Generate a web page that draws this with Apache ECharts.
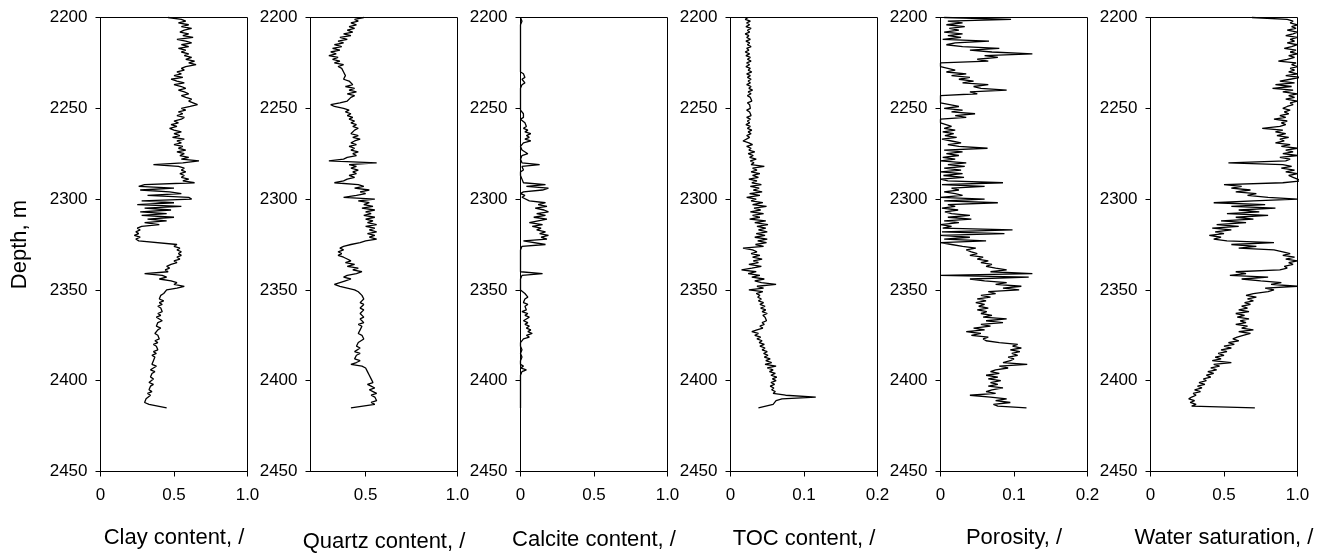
<!DOCTYPE html>
<html>
<head>
<meta charset="utf-8">
<title>Well log profiles</title>
<script src="https://cdn.jsdelivr.net/npm/echarts@6/dist/echarts.min.js"></script>
<style>
  html, body { margin: 0; padding: 0; background: #fff; }
  #chart { width: 1320px; height: 554px; }
</style>
</head>
<body>
<div id="chart"></div>
<script>
// Log sampling: one reading per metre, 2200 m to 2415 m
const depthTop = 2200;
const depthStep = 1;

const clay = [
  0.46, 0.55, 0.58, 0.53, 0.60, 0.55, 0.62, 0.57, 0.54, 0.60,
  0.56, 0.63, 0.52, 0.58, 0.62, 0.55, 0.60, 0.53, 0.58, 0.55,
  0.60, 0.57, 0.62, 0.58, 0.64, 0.60, 0.65, 0.58, 0.55, 0.57,
  0.52, 0.55, 0.50, 0.56, 0.48, 0.52, 0.57, 0.50, 0.55, 0.58,
  0.53, 0.57, 0.60, 0.55, 0.58, 0.62, 0.60, 0.63, 0.66, 0.61,
  0.55, 0.58, 0.53, 0.56, 0.52, 0.57, 0.55, 0.50, 0.53, 0.48,
  0.52, 0.47, 0.50, 0.55, 0.50, 0.54, 0.49, 0.57, 0.52, 0.55,
  0.50, 0.56, 0.53, 0.58, 0.52, 0.57, 0.54, 0.60, 0.55, 0.67,
  0.56, 0.36, 0.53, 0.57, 0.55, 0.58, 0.54, 0.57, 0.55, 0.60,
  0.56, 0.64, 0.30, 0.26, 0.50, 0.27, 0.47, 0.55, 0.32, 0.60,
  0.62, 0.28, 0.50, 0.25, 0.55, 0.30, 0.48, 0.27, 0.45, 0.28,
  0.50, 0.32, 0.45, 0.30, 0.40, 0.28, 0.25, 0.27, 0.24, 0.26,
  0.23, 0.27, 0.24, 0.26, 0.25, 0.52, 0.50, 0.54, 0.52, 0.55,
  0.53, 0.55, 0.52, 0.54, 0.50, 0.52, 0.48, 0.45, 0.47, 0.44,
  0.46, 0.30, 0.42, 0.45, 0.40, 0.48, 0.52, 0.50, 0.57, 0.52,
  0.45, 0.44, 0.43, 0.41, 0.42, 0.40, 0.43, 0.40, 0.42, 0.39,
  0.41, 0.40, 0.42, 0.39, 0.41, 0.38, 0.40, 0.42, 0.39, 0.40,
  0.38, 0.41, 0.39, 0.40, 0.37, 0.39, 0.38, 0.40, 0.37, 0.39,
  0.36, 0.38, 0.37, 0.39, 0.36, 0.38, 0.35, 0.37, 0.38, 0.36,
  0.37, 0.35, 0.38, 0.36, 0.34, 0.37, 0.35, 0.36, 0.34, 0.36,
  0.35, 0.33, 0.36, 0.34, 0.35, 0.33, 0.35, 0.32, 0.34, 0.33,
  0.31, 0.32, 0.30, 0.33, 0.32, 0.45
];

const quartz = [
  0.49, 0.44, 0.46, 0.42, 0.45, 0.41, 0.44, 0.40, 0.43, 0.38,
  0.42, 0.36, 0.40, 0.35, 0.38, 0.33, 0.37, 0.32, 0.36, 0.31,
  0.34, 0.30, 0.35, 0.32, 0.36, 0.33, 0.38, 0.35, 0.37, 0.36,
  0.38, 0.37, 0.39, 0.40, 0.38, 0.41, 0.40, 0.43, 0.39, 0.44,
  0.41, 0.45, 0.40, 0.44, 0.42, 0.43, 0.40, 0.36, 0.31, 0.33,
  0.38, 0.41, 0.39, 0.42, 0.40, 0.43, 0.41, 0.44, 0.42, 0.45,
  0.43, 0.46, 0.44, 0.45, 0.42, 0.46, 0.43, 0.47, 0.44, 0.42,
  0.45, 0.41, 0.44, 0.42, 0.46, 0.43, 0.45, 0.40, 0.38, 0.30,
  0.56, 0.41, 0.45, 0.42, 0.46, 0.43, 0.45, 0.41, 0.44, 0.40,
  0.38, 0.33, 0.46, 0.49, 0.44, 0.52, 0.47, 0.50, 0.45, 0.38,
  0.55, 0.46, 0.52, 0.49, 0.54, 0.48, 0.55, 0.50, 0.53, 0.49,
  0.55, 0.50, 0.54, 0.51, 0.56, 0.50, 0.55, 0.52, 0.56, 0.51,
  0.55, 0.52, 0.56, 0.50, 0.47, 0.42, 0.38, 0.36, 0.38, 0.35,
  0.37, 0.35, 0.38, 0.40, 0.42, 0.39, 0.44, 0.40, 0.46, 0.43,
  0.48, 0.45, 0.40, 0.38, 0.42, 0.39, 0.36, 0.33, 0.36, 0.40,
  0.44, 0.46, 0.47, 0.48, 0.47, 0.49, 0.48, 0.47, 0.49, 0.48,
  0.47, 0.49, 0.48, 0.47, 0.48, 0.49, 0.47, 0.48, 0.49, 0.46,
  0.48, 0.49, 0.47, 0.48, 0.46, 0.48, 0.47, 0.49, 0.48, 0.46,
  0.47, 0.45, 0.47, 0.46, 0.44, 0.47, 0.45, 0.46, 0.44, 0.47,
  0.45, 0.42, 0.48, 0.50, 0.49, 0.51, 0.50, 0.52, 0.51, 0.53,
  0.52, 0.54, 0.51, 0.53, 0.55, 0.52, 0.54, 0.56, 0.53, 0.55,
  0.54, 0.56, 0.53, 0.55, 0.54, 0.42
];

const calcite = [
  0.00, 0.00, 0.01, 0.00, 0.00, 0.00, 0.00, 0.00, 0.00, 0.00,
  0.00, 0.00, 0.00, 0.00, 0.00, 0.00, 0.00, 0.00, 0.00, 0.00,
  0.00, 0.00, 0.00, 0.00, 0.00, 0.00, 0.00, 0.00, 0.00, 0.00,
  0.00, 0.02, 0.01, 0.03, 0.01, 0.02, 0.03, 0.01, 0.02, 0.00,
  0.00, 0.00, 0.00, 0.00, 0.00, 0.00, 0.00, 0.00, 0.00, 0.00,
  0.00, 0.00, 0.00, 0.02, 0.01, 0.02, 0.00, 0.01, 0.03, 0.02,
  0.04, 0.02, 0.05, 0.03, 0.07, 0.04, 0.06, 0.03, 0.07, 0.02,
  0.01, 0.00, 0.00, 0.01, 0.00, 0.05, 0.01, 0.00, 0.00, 0.00,
  0.01, 0.13, 0.01, 0.00, 0.02, 0.00, 0.01, 0.00, 0.00, 0.01,
  0.00, 0.02, 0.17, 0.04, 0.19, 0.15, 0.02, 0.00, 0.03, 0.01,
  0.00, 0.06, 0.17, 0.12, 0.18, 0.10, 0.16, 0.19, 0.11, 0.17,
  0.09, 0.18, 0.12, 0.06, 0.15, 0.08, 0.14, 0.11, 0.17, 0.13,
  0.19, 0.14, 0.18, 0.02, 0.01, 0.17, 0.01, 0.00, 0.00, 0.00,
  0.00, 0.00, 0.00, 0.00, 0.00, 0.00, 0.00, 0.00, 0.00, 0.01,
  0.00, 0.15, 0.01, 0.00, 0.00, 0.00, 0.00, 0.00, 0.00, 0.00,
  0.00, 0.01, 0.03, 0.02, 0.05, 0.03, 0.04, 0.02, 0.05, 0.03,
  0.02, 0.04, 0.01, 0.05, 0.03, 0.06, 0.04, 0.02, 0.05, 0.03,
  0.06, 0.04, 0.07, 0.05, 0.08, 0.04, 0.06, 0.02, 0.01, 0.00,
  0.01, 0.00, 0.00, 0.01, 0.00, 0.00, 0.00, 0.01, 0.00, 0.00,
  0.01, 0.00, 0.02, 0.00, 0.04, 0.01, 0.00, 0.00, 0.00, 0.00,
  0.00, 0.00, 0.00, 0.00, 0.00, 0.00, 0.00, 0.00, 0.00, 0.00,
  0.00, 0.00, 0.00, 0.00, 0.00, 0.00
];

const toc = [
  0.024, 0.020, 0.027, 0.022, 0.026, 0.021, 0.028, 0.023, 0.026, 0.020,
  0.025, 0.022, 0.027, 0.021, 0.026, 0.023, 0.028, 0.022, 0.025, 0.020,
  0.026, 0.021, 0.027, 0.023, 0.028, 0.022, 0.026, 0.021, 0.027, 0.024,
  0.029, 0.022, 0.027, 0.023, 0.028, 0.024, 0.027, 0.022, 0.028, 0.025,
  0.030, 0.024, 0.028, 0.023, 0.027, 0.025, 0.029, 0.023, 0.026, 0.024,
  0.027, 0.022, 0.026, 0.024, 0.028, 0.022, 0.027, 0.023, 0.026, 0.021,
  0.027, 0.023, 0.029, 0.024, 0.028, 0.022, 0.026, 0.024, 0.017, 0.025,
  0.030, 0.022, 0.028, 0.025, 0.033, 0.024, 0.031, 0.026, 0.035, 0.027,
  0.032, 0.028, 0.046, 0.030, 0.036, 0.028, 0.040, 0.030, 0.038, 0.025,
  0.036, 0.029, 0.042, 0.027, 0.039, 0.031, 0.043, 0.026, 0.040, 0.022,
  0.035, 0.028, 0.044, 0.030, 0.049, 0.032, 0.041, 0.027, 0.045, 0.030,
  0.040, 0.026, 0.048, 0.033, 0.051, 0.036, 0.048, 0.038, 0.050, 0.035,
  0.047, 0.033, 0.050, 0.037, 0.049, 0.034, 0.045, 0.017, 0.030, 0.036,
  0.028, 0.040, 0.030, 0.043, 0.031, 0.038, 0.025, 0.042, 0.029, 0.015,
  0.035, 0.024, 0.040, 0.029, 0.046, 0.033, 0.042, 0.062, 0.036, 0.045,
  0.025, 0.044, 0.035, 0.040, 0.037, 0.042, 0.038, 0.045, 0.040, 0.047,
  0.041, 0.048, 0.043, 0.050, 0.044, 0.047, 0.045, 0.049, 0.043, 0.046,
  0.040, 0.044, 0.036, 0.029, 0.038, 0.033, 0.041, 0.036, 0.043, 0.039,
  0.046, 0.040, 0.047, 0.043, 0.050, 0.045, 0.051, 0.046, 0.054, 0.048,
  0.056, 0.047, 0.062, 0.050, 0.058, 0.053, 0.061, 0.055, 0.063, 0.057,
  0.062, 0.055, 0.060, 0.054, 0.059, 0.056, 0.061, 0.058, 0.075, 0.116,
  0.070, 0.062, 0.060, 0.058, 0.056, 0.038
];

const porosity = [
  0.005, 0.096, 0.010, 0.030, 0.008, 0.033, 0.012, 0.025, 0.005, 0.030,
  0.010, 0.028, 0.003, 0.066, 0.020, 0.008, 0.030, 0.080, 0.040, 0.070,
  0.125, 0.060, 0.078, 0.050, 0.065, 0.000, 0.000, 0.000, 0.000, 0.020,
  0.008, 0.035, 0.015, 0.040, 0.025, 0.045, 0.030, 0.065, 0.045, 0.055,
  0.090, 0.040, 0.050, 0.000, 0.000, 0.000, 0.000, 0.000, 0.000, 0.025,
  0.005, 0.030, 0.015, 0.047, 0.020, 0.035, 0.000, 0.000, 0.000, 0.000,
  0.015, 0.005, 0.020, 0.003, 0.018, 0.006, 0.022, 0.002, 0.015, 0.028,
  0.010, 0.025, 0.064, 0.005, 0.030, 0.008, 0.025, 0.003, 0.020, 0.000,
  0.035, 0.010, 0.033, 0.005, 0.028, 0.000, 0.030, 0.004, 0.032, 0.000,
  0.010, 0.085, 0.002, 0.060, 0.015, 0.025, 0.005, 0.020, 0.030, 0.000,
  0.060, 0.005, 0.078, 0.010, 0.020, 0.002, 0.024, 0.006, 0.015, 0.040,
  0.010, 0.042, 0.005, 0.025, 0.000, 0.015, 0.003, 0.098, 0.002, 0.087,
  0.000, 0.040, 0.005, 0.062, 0.000, 0.015, 0.030, 0.048, 0.035, 0.042,
  0.050, 0.040, 0.058, 0.050, 0.065, 0.055, 0.070, 0.062, 0.075, 0.090,
  0.068, 0.125, 0.000, 0.120, 0.040, 0.060, 0.090, 0.075, 0.110, 0.085,
  0.107, 0.065, 0.075, 0.055, 0.068, 0.050, 0.062, 0.048, 0.060, 0.052,
  0.065, 0.050, 0.063, 0.055, 0.070, 0.058, 0.090, 0.062, 0.085, 0.055,
  0.068, 0.045, 0.060, 0.035, 0.055, 0.042, 0.065, 0.058, 0.062, 0.080,
  0.105, 0.098, 0.110, 0.095, 0.108, 0.097, 0.105, 0.092, 0.100, 0.095,
  0.085, 0.118, 0.080, 0.092, 0.075, 0.068, 0.080, 0.062, 0.078, 0.065,
  0.082, 0.068, 0.078, 0.065, 0.085, 0.070, 0.062, 0.075, 0.040, 0.068,
  0.090, 0.075, 0.095, 0.072, 0.078, 0.117
];

const waterSat = [
  0.69, 0.93, 0.97, 0.95, 1.00, 0.96, 0.99, 0.93, 1.00, 0.97,
  0.92, 1.00, 0.95, 0.98, 0.93, 1.00, 0.96, 0.91, 0.99, 0.95,
  1.00, 0.94, 0.98, 0.93, 0.87, 0.99, 0.96, 1.00, 0.95, 0.98,
  0.94, 1.00, 0.92, 1.02, 0.95, 0.88, 0.98, 0.85, 0.96, 0.83,
  0.97, 0.90, 1.00, 0.94, 0.98, 0.92, 1.00, 0.95, 0.97, 0.93,
  0.90, 0.95, 0.91, 0.94, 0.88, 0.92, 0.84, 0.93, 0.89, 0.92,
  0.88, 0.76, 0.90, 0.85, 0.92, 0.86, 0.94, 0.88, 0.91, 0.85,
  0.95, 0.89, 1.00, 0.92, 0.97, 0.90, 1.00, 0.88, 0.95, 0.92,
  0.53, 0.90, 0.96, 0.89, 0.98, 0.92, 1.00, 0.94, 0.97, 1.00,
  1.02, 0.90, 0.50, 0.62, 0.55, 0.68, 0.58, 0.72, 0.66, 0.80,
  1.00, 0.70, 0.43, 0.78, 0.55, 0.85, 0.60, 0.74, 0.52, 0.80,
  0.58, 0.70, 0.48, 0.65, 0.45, 0.60, 0.42, 0.55, 0.44, 0.50,
  0.40, 0.48, 0.43, 0.52, 0.84, 0.55, 0.72, 0.60, 0.84, 0.90,
  0.95, 0.90, 0.98, 0.92, 1.00, 0.94, 0.97, 0.91, 0.93, 0.88,
  0.58, 0.65, 0.54, 0.80, 0.62, 0.75, 0.89, 0.82, 1.00, 0.78,
  0.84, 0.80, 0.70, 0.65, 0.72, 0.66, 0.70, 0.64, 0.68, 0.62,
  0.66, 0.60, 0.67, 0.58, 0.64, 0.59, 0.67, 0.61, 0.65, 0.58,
  0.66, 0.62, 0.70, 0.60, 0.68, 0.63, 0.59, 0.56, 0.60, 0.53,
  0.57, 0.50, 0.55, 0.48, 0.52, 0.46, 0.50, 0.44, 0.48, 0.42,
  0.55, 0.43, 0.47, 0.41, 0.45, 0.39, 0.43, 0.38, 0.41, 0.36,
  0.38, 0.33, 0.37, 0.32, 0.35, 0.30, 0.34, 0.29, 0.31, 0.28,
  0.26, 0.30, 0.27, 0.31, 0.28, 0.71
];

// Track titles and x tick values
const trackNames = ['Clay content, /', 'Quartz content, /', 'Calcite content, /',
                    'TOC content, /', 'Porosity, /', 'Water saturation, /'];
const trackSeries = [clay, quartz, calcite, toc, porosity, waterSat];
const trackMin = [0, 0.2, 0, 0, 0, 0];
const trackMax = [1, 1, 1, 0.2, 0.2, 1];
const trackTicks = [[0, 0.5, 1], [0.5, 1], [0, 0.5, 1], [0, 0.1, 0.2], [0, 0.1, 0.2], [0, 0.5, 1]];
const depthTicks = [2200, 2250, 2300, 2350, 2400, 2450];

const FONT = 'Liberation Sans, Arial, sans-serif';
const nameGaps = [55, 59, 57, 56, 55, 55];

const depths = clay.map((_, i) => depthTop + i * depthStep);

const grids = [], xAxes = [], yAxes = [], series = [];
trackSeries.forEach((vals, k) => {
  // half-pixel offsets keep the frame lines crisp
  grids.push({
    left: 100.5 + 210 * k, top: 17.5, width: 147, height: 454,
    outerBoundsMode: 'none', containLabel: false,
    show: true, borderColor: '#000', borderWidth: 1, backgroundColor: 'transparent'
  });
  xAxes.push({
    type: 'value', gridIndex: k, position: 'bottom',
    min: trackMin[k], max: trackMax[k],
    name: trackNames[k], nameLocation: 'middle', nameGap: nameGaps[k],
    nameTextStyle: { fontFamily: FONT, fontSize: 22, color: '#000' },
    axisLine: { show: true, lineStyle: { color: '#000', width: 1 } },
    axisTick: { show: true, inside: false, length: 5, lineStyle: { color: '#000' },
                customValues: trackTicks[k] },
    axisLabel: { fontFamily: FONT, fontSize: 17, color: '#000', margin: 15,
                 customValues: trackTicks[k],
                 formatter: v => (v === 0 ? '0' : Number(v).toFixed(1)) },
    splitLine: { show: false }
  });
  yAxes.push({
    type: 'value', gridIndex: k, inverse: true,
    min: depthTicks[0], max: depthTicks[depthTicks.length - 1], interval: 50,
    name: k === 0 ? 'Depth, m' : '', nameLocation: 'middle', nameGap: 70, nameRotate: 90,
    nameTextStyle: { fontFamily: FONT, fontSize: 22, color: '#000' },
    axisLine: { show: true, lineStyle: { color: '#000', width: 1 } },
    axisTick: { show: true, inside: false, length: 5, lineStyle: { color: '#000' } },
    axisLabel: { fontFamily: FONT, fontSize: 17, color: '#000', margin: 13,
                 formatter: v => String(v) },
    splitLine: { show: false }
  });
  series.push({
    type: 'line', xAxisIndex: k, yAxisIndex: k,
    data: vals.map((v, i) => [v, depths[i]]),
    showSymbol: false, symbol: 'none', clip: false,
    lineStyle: { color: '#000', width: 1.3 },
    animation: false
  });
});

const chart = echarts.init(document.getElementById('chart'), null, { renderer: 'canvas' });
chart.setOption({
  animation: false,
  backgroundColor: '#fff',
  grid: grids, xAxis: xAxes, yAxis: yAxes, series: series
});
</script>
</body>
</html>
